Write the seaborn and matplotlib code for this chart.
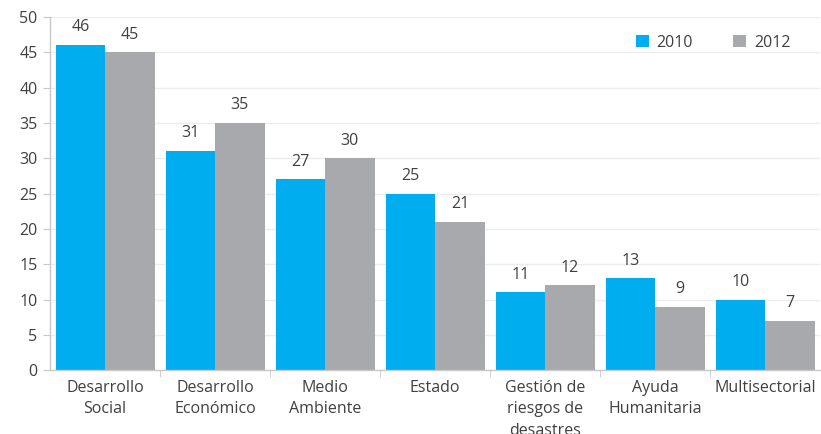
import pandas as pd
import matplotlib.pyplot as plt
import seaborn as sns

# Data
categories = ['Desarrollo\nSocial', 'Desarrollo\nEconómico', 'Medio\nAmbiente', 'Estado',
              'Gestión de\nriesgos de\ndesastres', 'Ayuda\nHumanitaria', 'Multisectorial']
years = ['2010', '2012']
values_2010 = [46, 31, 27, 25, 11, 13, 10]
values_2012 = [45, 35, 30, 21, 12, 9, 7]

df = pd.DataFrame({
    'Categoria': categories * 2,
    'Año': [years[0]] * len(categories) + [years[1]] * len(categories),
    'Valor': values_2010 + values_2012,
})

sns.set_style('white')
plt.rcParams['font.family'] = ['Open Sans', 'DejaVu Sans']
text_color = '#404040'
axis_color = '#c8c8c8'

fig = plt.figure(figsize=(8.21, 4.34), dpi=100)
ax = fig.add_axes([0.061, 0.147, 0.938, 0.814])

ax.yaxis.grid(True, color='#ececec', linewidth=1)
ax.set_axisbelow(True)

sns.barplot(data=df, x='Categoria', y='Valor', hue='Año',
            palette=['#00aeef', '#a7a9ac'], width=0.9, saturation=1,
            linewidth=0, ax=ax, zorder=2)

# value labels above each bar
for cont in ax.containers:
    ax.bar_label(cont, padding=7, fontsize=11.5, color=text_color)

ax.set_ylim(0, 50)
ax.set_yticks(range(0, 51, 5))
ax.set_xlim(-0.5, len(categories) - 0.5)
ax.set_xlabel('')
ax.set_ylabel('')

ax.tick_params(axis='y', labelsize=11.5, labelcolor=text_color, length=5,
               color=axis_color, pad=4, left=True)
ax.tick_params(axis='x', which='major', labelsize=11.5, labelcolor=text_color,
               length=0, pad=7)
for lbl in ax.get_xticklabels():
    lbl.set_linespacing(1.45)
ax.set_xticks([i - 0.5 for i in range(1, len(categories))], minor=True)
ax.tick_params(axis='x', which='minor', length=5, color=axis_color, bottom=True)

for s in ['top', 'right']:
    ax.spines[s].set_visible(False)
for s in ['left', 'bottom']:
    ax.spines[s].set_color(axis_color)
    ax.spines[s].set_linewidth(1)

ax.legend(title=None, loc='upper right', bbox_to_anchor=(0.98, 0.99), ncol=2,
          frameon=False, fontsize=11.5, labelcolor=text_color,
          handlelength=0.8, handleheight=0.8, handletextpad=0.5, columnspacing=2.5)

plt.savefig('out.png', dpi=100)
